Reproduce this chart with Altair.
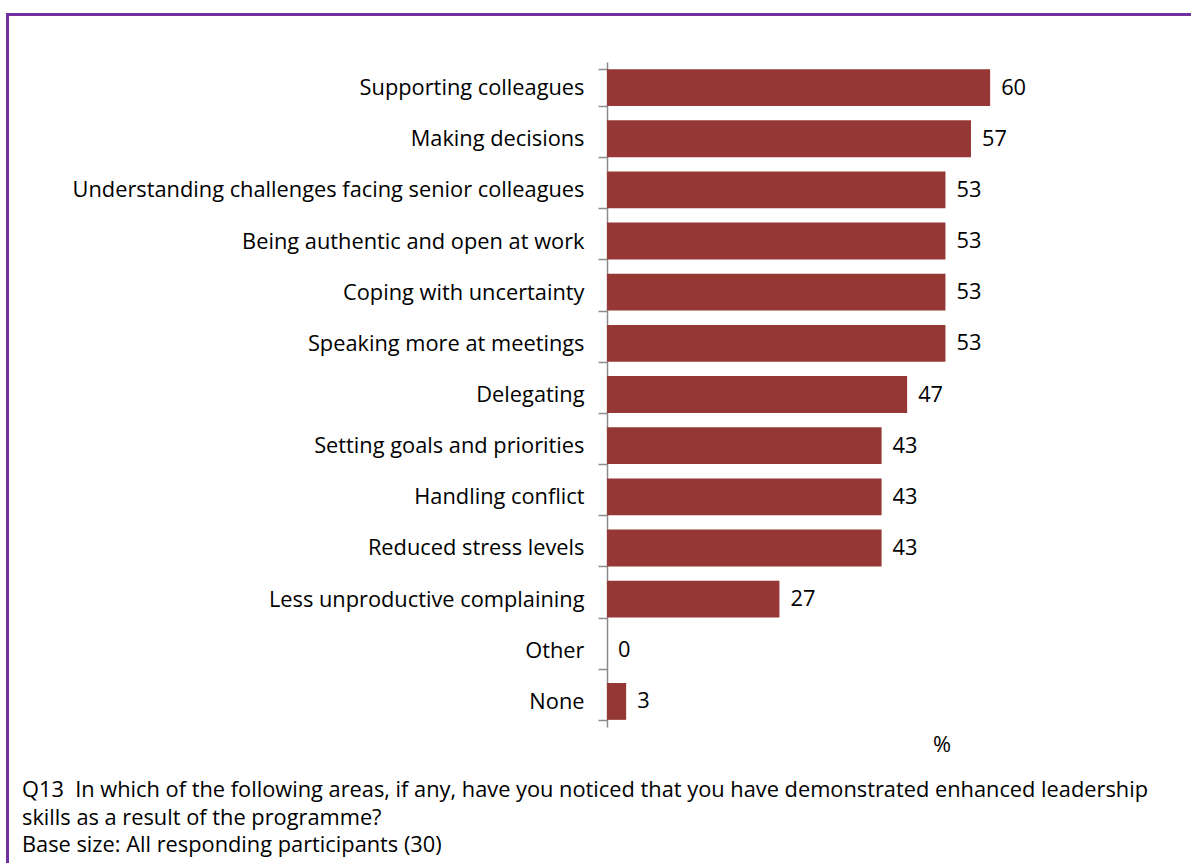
import altair as alt
import pandas as pd

categories = [
    "Supporting colleagues",
    "Making decisions",
    "Understanding challenges facing senior colleagues",
    "Being authentic and open at work",
    "Coping with uncertainty",
    "Speaking more at meetings",
    "Delegating",
    "Setting goals and priorities",
    "Handling conflict",
    "Reduced stress levels",
    "Less unproductive complaining",
    "Other",
    "None",
]
values = [60, 57, 53, 53, 53, 53, 47, 43, 43, 43, 27, 0, 3]

caption_lines = [
    "Q13\u00a0 In which of the following areas, if any, have you noticed that you have demonstrated enhanced leadership",
    "skills as a result of the programme?",
    "Base size: All responding participants (30)",
]
unit_label = "%"

FONT = "Open Sans"
FS = 21.8
BAR = "#953735"
PURPLE = "#7030A0"

df = pd.DataFrame({"cat": categories, "val": values})

W, H = 447, 665
LEFT, TOP = 607, 62

x = alt.X("val:Q", scale=alt.Scale(domain=[0, 70], nice=False), axis=None)
y = alt.Y(
    "cat:N",
    sort=categories,
    scale=alt.Scale(paddingInner=0.28, paddingOuter=0.14),
    axis=alt.Axis(
        title=None,
        tickBand="extent",
        tickSize=9,
        tickWidth=1.5,
        tickColor="#8c8c8c",
        domainColor="#8c8c8c",
        domainWidth=1.5,
        labelFont=FONT,
        labelFontSize=FS,
        labelColor="#000000",
        labelPadding=14,
        labelLimit=600,
    ),
)

base = alt.Chart(df)
bars = base.mark_bar(color=BAR).encode(x=x, y=y)
labels = base.mark_text(
    align="left", baseline="middle", dx=11, font=FONT, fontSize=FS, color="#000000"
).encode(x=x, y=y, text="val:Q")

pct = alt.Chart(pd.DataFrame({"t": [unit_label]})).mark_text(
    align="center", baseline="middle", font=FONT, fontSize=FS, color="#000000"
).encode(text="t:N", x=alt.value(335), y=alt.value(683))

cap_layers = []
for i, line in enumerate(caption_lines):
    cap_layers.append(
        alt.Chart(pd.DataFrame({"t": [line]})).mark_text(
            align="left", baseline="middle", font=FONT, fontSize=FS, color="#000000"
        ).encode(text="t:N", x=alt.value(22 - LEFT), y=alt.value(790 - TOP + i * 27.5))
    )

border_top = alt.Chart(pd.DataFrame({"a": [0]})).mark_rule(
    color=PURPLE, strokeWidth=3
).encode(x=alt.value(6 - LEFT), x2=alt.value(1191 - LEFT), y=alt.value(14.5 - TOP))
border_left = alt.Chart(pd.DataFrame({"a": [0]})).mark_rule(
    color=PURPLE, strokeWidth=3
).encode(x=alt.value(7.5 - LEFT), y=alt.value(13 - TOP), y2=alt.value(863 - TOP))

chart = alt.layer(bars, labels, pct, *cap_layers, border_top, border_left).properties(
    width=W,
    height=H,
    autosize=alt.AutoSizeParams(type="none"),
    padding={"left": LEFT, "top": TOP, "right": 1191 - LEFT - W, "bottom": 863 - TOP - H},
).configure(background="white").configure_view(stroke=None)

chart.save("out.html", embed_options={"renderer": "svg", "actions": False})
